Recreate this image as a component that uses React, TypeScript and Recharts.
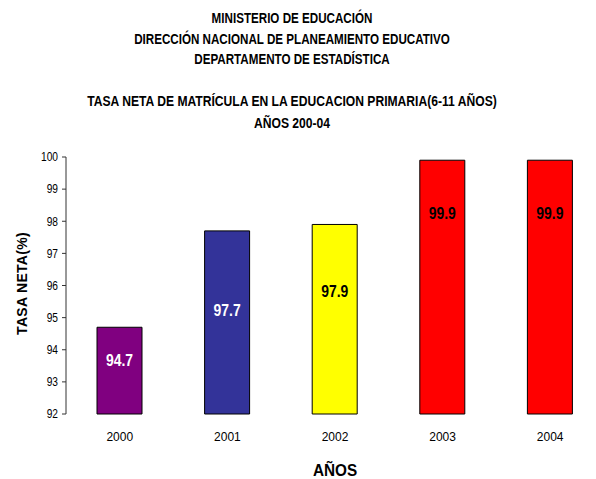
import { Bar, BarChart, Cell, LabelList, XAxis, YAxis } from "recharts";

const years = ["2000", "2001", "2002", "2003", "2004"];
const tasaNeta = [94.7, 97.7, 97.9, 99.9, 99.9];
const barColors = ["#800080", "#333399", "#FFFF00", "#FF0000", "#FF0000"];
const labelColors = ["#FFFFFF", "#FFFFFF", "#000000", "#000000", "#000000"];
const yTicks = [92, 93, 94, 95, 96, 97, 98, 99, 100];
const bandEdges = [0, 1, 2, 3, 4, 5];

const headerLines = [
  "MINISTERIO DE EDUCACIÓN",
  "DIRECCIÓN NACIONAL DE PLANEAMIENTO EDUCATIVO",
  "DEPARTAMENTO DE ESTADÍSTICA",
];
const titleLines = [
  "TASA NETA DE MATRÍCULA EN LA EDUCACION PRIMARIA(6-11 AÑOS)",
  "AÑOS 200-04",
];

// Excel put the value labels at odd heights inside each bar
const labelDrop = [33, 79, 67, 53, 53];

// the original used Arial Narrow; no narrow face here, so squeeze horizontally
const FONT = "'Liberation Sans', Arial, sans-serif";

const data = years.map((year, i) => ({ year, tasa: tasaNeta[i] }));

function ValueLabel(props: any) {
  const { x, y, width, value, index } = props;
  const cx = x + width / 2;
  const cy = y + labelDrop[index];
  return (
    <text
      transform={`translate(${cx}, ${cy}) scale(0.82, 1)`}
      textAnchor="middle"
      dominantBaseline="central"
      fill={labelColors[index]}
      fontFamily={FONT}
      fontWeight="bold"
      fontSize={17}
    >
      {value}
    </text>
  );
}

function YTick(props: any) {
  const { x, y, payload } = props;
  return (
    <text
      transform={`translate(${x}, ${y}) scale(0.85, 1)`}
      textAnchor="end"
      dominantBaseline="central"
      fill="#000"
      fontFamily={FONT}
      fontSize={12}
    >
      {payload.value}
    </text>
  );
}

function YTitle(props: any) {
  const vb = props.viewBox;
  const cy = vb.y + vb.height / 2 - 2;
  return (
    <text
      transform={`translate(22, ${cy}) rotate(-90)`}
      textAnchor="middle"
      dominantBaseline="central"
      fontFamily={FONT}
      fontWeight="bold"
      fontSize={14}
      letterSpacing={0.3}
      fill="#000"
    >
      TASA NETA(%)
    </text>
  );
}

function XTitle(props: any) {
  const vb = props.viewBox;
  return (
    <text
      transform={`translate(${vb.x + vb.width / 2}, 470) scale(0.9, 1)`}
      textAnchor="middle"
      dominantBaseline="central"
      fontFamily={FONT}
      fontWeight="bold"
      fontSize={17}
      fill="#000"
    >
      AÑOS
    </text>
  );
}

const headStyle = {
  position: "absolute" as const,
  left: 0,
  width: 584,
  textAlign: "center" as const,
  fontFamily: FONT,
  fontWeight: "bold" as const,
  fontSize: 14,
  color: "#000",
};

export default function App() {
  return (
    <div
      style={{
        position: "absolute",
        left: 0,
        top: 0,
        width: 596,
        height: 479,
        overflow: "hidden",
        background: "#fff",
      }}
    >
      <div style={{ ...headStyle, top: 8, lineHeight: "20.5px", transform: "scaleX(0.83)" }}>
        {headerLines.map((t) => (
          <div key={t}>{t}</div>
        ))}
      </div>
      <div style={{ ...headStyle, top: 90, lineHeight: "22px", transform: "scaleX(0.865)" }}>
        {titleLines.map((t) => (
          <div key={t}>{t}</div>
        ))}
      </div>
      <BarChart
        width={610}
        height={479}
        data={data}
        margin={{ top: 157, right: 6, bottom: 0, left: 0 }}
      >
        <XAxis
          xAxisId="edges"
          type="number"
          domain={[0, 5]}
          ticks={bandEdges}
          tick={false}
          tickSize={4}
          height={0}
          stroke="#333"
          axisLine={{ stroke: "#333" }}
        />
        <XAxis
          xAxisId="cat"
          dataKey="year"
          height={65}
          axisLine={false}
          tickLine={false}
          tickMargin={12}
          tick={{ fill: "#000", fontSize: 12, fontFamily: FONT }}
          label={XTitle}
        />
        <YAxis
          width={66}
          domain={[92, 100]}
          ticks={yTicks}
          interval={0}
          tickSize={4}
          tickMargin={4}
          stroke="#333"
          tick={YTick}
          label={YTitle}
        />
        <Bar
          dataKey="tasa"
          xAxisId="cat"
          barSize={45}
          stroke="#000"
          strokeWidth={1}
          isAnimationActive={false}
        >
          {data.map((d, i) => (
            <Cell key={d.year} fill={barColors[i]} />
          ))}
          <LabelList dataKey="tasa" content={ValueLabel} />
        </Bar>
      </BarChart>
    </div>
  );
}
